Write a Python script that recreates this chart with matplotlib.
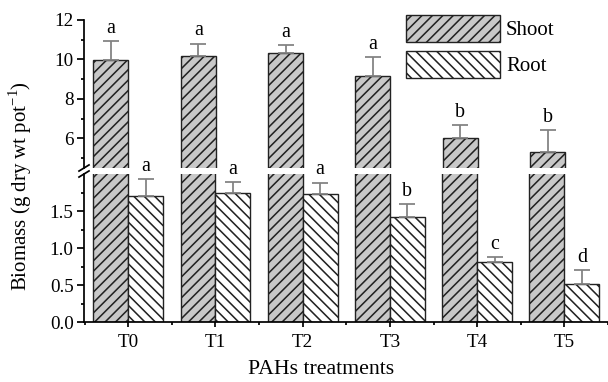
import matplotlib
matplotlib.use("Agg")
import matplotlib.pyplot as plt
import numpy as np
from matplotlib.ticker import FormatStrFormatter, MultipleLocator

plt.rcParams['font.family'] = ['Liberation Serif', 'DejaVu Serif']
plt.rcParams['hatch.linewidth'] = 0.9

treatments = ['T0', 'T1', 'T2', 'T3', 'T4', 'T5']
shoot = [9.97, 10.18, 10.34, 9.18, 6.00, 5.33]
shoot_err = [0.95, 0.62, 0.39, 0.93, 0.68, 1.09]
shoot_letters = ['a', 'a', 'a', 'a', 'b', 'b']
root = [1.71, 1.75, 1.73, 1.415, 0.81, 0.52]
root_err = [0.22, 0.14, 0.155, 0.175, 0.065, 0.18]
root_letters = ['a', 'a', 'a', 'b', 'c', 'd']

DPI = 125
fig = plt.figure(figsize=(608 / DPI, 382 / DPI), dpi=DPI)
L, R = 84 / 608, 1.0
ax_top = fig.add_axes([L, 1 - 168 / 382, R - L, (168 - 20) / 382])
ax_bot = fig.add_axes([L, 1 - 322.3 / 382, R - L, (322.3 - 174) / 382])

x = np.arange(len(treatments))
w = 0.4
shoot_color = '#c8c8c8'
err_color = '#808080'

for ax in (ax_top, ax_bot):
    ax.bar(x - w / 2, shoot, w, color=shoot_color, edgecolor='#222222',
           linewidth=0.8, hatch='////', label='Shoot')
    ax.bar(x + w / 2, root, w, color='white', edgecolor='#222222',
           linewidth=0.8, hatch='\\\\\\\\', label='Root')
    ax.set_xlim(-0.507, 5.49)
    for s in ('top', 'right'):
        ax.spines[s].set_visible(False)
    ax.spines['left'].set_linewidth(1.0)
    ax.spines['bottom'].set_linewidth(1.0)
    ax.tick_params(axis='y', which='major', direction='out', length=4, width=1.0,
                   labelsize=11, pad=2)
    ax.tick_params(axis='y', which='minor', direction='out', length=2, width=1.0)

# upper part
ax_top.errorbar(x - w / 2, shoot, yerr=[np.zeros(6), shoot_err], fmt='none',
                ecolor=err_color, elinewidth=1.0, capsize=4.5, capthick=1.0)
ax_top.set_ylim(4.5, 12)
ax_top.yaxis.set_major_locator(MultipleLocator(2))
ax_top.yaxis.set_minor_locator(MultipleLocator(1))
ax_top.spines['bottom'].set_visible(False)
ax_top.tick_params(axis='x', which='both', bottom=False, labelbottom=False)
for xi, v, e, t in zip(x - w / 2, shoot, shoot_err, shoot_letters):
    ax_top.annotate(t, (xi, v + e), xytext=(0, 2), textcoords='offset points',
                    ha='center', va='bottom', fontsize=11.5, annotation_clip=False)

# lower part
ax_bot.errorbar(x + w / 2, root, yerr=[np.zeros(6), root_err], fmt='none',
                ecolor=err_color, elinewidth=1.0, capsize=4.5, capthick=1.0)
ax_bot.set_ylim(0, 2.0)
ax_bot.yaxis.set_major_formatter(FormatStrFormatter('%.1f'))
ax_bot.set_yticks([0.0, 0.5, 1.0, 1.5])
ax_bot.set_yticks([0.25, 0.75, 1.25, 1.75], minor=True)
ax_bot.set_xticks(x)
ax_bot.set_xticklabels(treatments)
ax_bot.set_xticks(np.arange(-0.5, 5.6, 1.0), minor=True)
ax_bot.tick_params(axis='x', which='major', direction='out', length=3, width=1.0,
                   labelsize=11, pad=4)
ax_bot.tick_params(axis='x', which='minor', direction='out', length=2, width=1.0)
for xi, v, e, t in zip(x + w / 2, root, root_err, root_letters):
    ax_bot.annotate(t, (xi, v + e), xytext=(0, 2), textcoords='offset points',
                    ha='center', va='bottom', fontsize=11.5, annotation_clip=False)

# break marks on the left spine
d = 5 / 608
for yb in (1 - 168 / 382, 1 - 174 / 382):
    fig.add_artist(plt.Line2D([L - d, L + d], [yb - 0.008, yb + 0.008],
                              color='black', linewidth=1.0))

fig.text(321.5 / 608, 1 - 370 / 382, 'PAHs treatments', ha='center', va='center',
         fontsize=12.5)
fig.text(20 / 608, 1 - 186 / 382, 'Biomass (g dry wt pot$^{\\mathregular{-1}}$)',
         rotation=90, ha='center', va='center', fontsize=12)

leg = ax_top.legend(loc='upper left', bbox_to_anchor=(406 / 608, 1 - 15 / 382),
                    bbox_transform=fig.transFigure, frameon=False, fontsize=12,
                    handlelength=4.5, handleheight=1.6, handletextpad=0.3,
                    labelspacing=0.45, borderpad=0, borderaxespad=0)

fig.savefig('out.png', dpi=DPI)
